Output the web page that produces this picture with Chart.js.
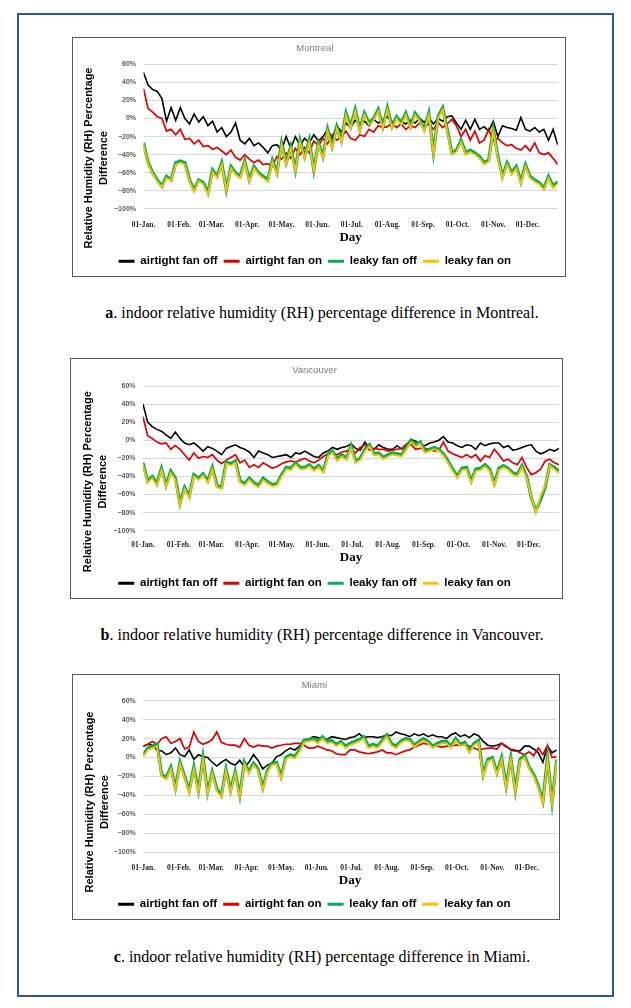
<!DOCTYPE html>
<html>
<head>
<meta charset="utf-8">
<script src="https://cdn.jsdelivr.net/npm/chart.js@4.4.1/dist/chart.umd.min.js"></script>
<style>
html, body { margin: 0; padding: 0; background: #fff; }
body { width: 631px; height: 1008px; position: relative; overflow: hidden; font-family: "Liberation Serif", serif; }
#frame { position: absolute; left: 17px; top: 13px; width: 593px; height: 980px; border: 2px solid #2a5a96; }
.box { position: absolute; }
.box .edge { position: absolute; left: 0; top: 0; right: 0; bottom: 0; border: 1px solid #595959; pointer-events: none; }
.cap { position: absolute; left: 22px; width: 600px; text-align: center; font-size: 16px; line-height: 20px; color: #000; }
</style>
</head>
<body>
<div id="frame"></div>

<div class="box" style="left:72px;top:37px;width:494px;height:240px"><canvas id="chartMtl"></canvas><div class="edge"></div></div>
<div class="cap" style="top:303px"><b>a</b>. indoor relative humidity (RH) percentage difference in Montreal.</div>

<div class="box" style="left:70px;top:358px;width:493px;height:241px"><canvas id="chartVan"></canvas><div class="edge"></div></div>
<div class="cap" style="top:625px"><b>b</b>. indoor relative humidity (RH) percentage difference in Vancouver.</div>

<div class="box" style="left:72px;top:674px;width:488px;height:246px"><canvas id="chartMia"></canvas><div class="edge"></div></div>
<div class="cap" style="top:947px"><b>c</b>. indoor relative humidity (RH) percentage difference in Miami.</div>

<script>
// day of year for each sample
const days = [0,4,8,12,16,20,24,28,32,36,40,44,48,52,56,60,64,68,72,76,80,84,88,92,96,100,104,108,112,116,120,124,128,132,136,
  140,144,148,152,156,160,164,168,172,176,180,184,188,192,196,200,204,208,212,216,220,224,228,232,236,240,244,248,252,256,260,
  264,268,272,276,280,284,288,292,296,300,304,308,312,316,320,324,328,332,336,340,344,348,352,356,360];
const monthStarts = [0,31,59,90,120,151,181,212,243,273,304,334];
const monthLabels = ['01-Jan.','01-Feb.','01-Mar.','01-Apr.','01-May.','01-Jun.','01-Jul.','01-Aug.','01-Sep.','01-Oct.','01-Nov.','01-Dec.'];
const seriesNames = ['airtight fan off','airtight fan on','leaky fan off','leaky fan on'];

// Montreal
const mtlAirtightOff = [51,37,32,30,22,-3,12,-2,12,0,-6,5,-4,2,-8,-3,-15,-10,-20,-15,-5,-24,-28,-22,-30,-27,-32,-38,-30,-29,-35,-20,-33,-20,-30,
  -22,-27,-18,-25,-20,-12,-22,-8,-15,-5,-10,-2,-6,-3,-8,-1,-5,-2,2,-4,0,-3,-6,-2,-5,0,-4,1,-6,0,-3,2,3,-5,-12,-2,-12,-1,-12,-9,-14,-3,-20,-8,-10,-11,-13,1,-12,-14,-10,-15,-12,-24,-12,-29];
const mtlAirtightOn = [33,11,7,2,0,-14,-12,-18,-12,-23,-22,-28,-24,-31,-30,-34,-32,-36,-40,-35,-43,-46,-40,-45,-49,-46,-51,-50,-53,-42,-45,-38,-44,-33,-40,
  -32,-38,-25,-30,-22,-28,-18,-24,-20,-14,-22,-24,-18,-20,-12,-15,-8,-10,-9,-5,-10,-6,-12,-8,-10,-5,-10,-6,-12,-4,-10,-6,-1,-8,-20,-12,-24,-14,-27,-24,-12,-25,-22,-27,-30,-29,-33,-35,-30,-36,-27,-38,-40,-38,-44,-51];
const mtlLeakyOff = [-27,-49,-60,-68,-75,-64,-68,-49,-47,-49,-68,-79,-68,-71,-82,-57,-64,-49,-79,-53,-60,-64,-47,-68,-53,-60,-64,-68,-46,-60,-27,-49,-31,-57,-24,
  -42,-24,-57,-27,-42,-12,-31,-9,-24,6,-9,10,-12,6,-5,0,10,-9,12,-9,2,-5,6,-9,6,-1,-12,6,-38,2,12,-12,-38,-35,-24,-38,-35,-38,-42,-49,-46,-12,-42,-64,-49,-60,-53,-70,-51,-64,-68,-71,-77,-64,-75,-70];
const mtlLeakyOn = [-29,-51,-61,-70,-76,-66,-69,-51,-49,-51,-70,-81,-69,-73,-84,-59,-66,-51,-80,-55,-62,-66,-49,-70,-55,-62,-66,-70,-48,-62,-29,-51,-33,-58,-26,
  -44,-26,-58,-29,-44,-14,-33,-11,-26,4,-11,8,-14,4,-7,-2,8,-11,10,-11,0,-7,4,-11,4,-3,-14,4,-40,0,10,-14,-40,-37,-26,-40,-37,-40,-44,-51,-48,-14,-44,-66,-51,-62,-55,-72,-53,-66,-70,-73,-79,-66,-77,-72];

// Vancouver
const vanAirtightOff = [40,20,15,12,10,6,2,9,2,-3,-5,-3,-7,-12,-7,-9,-12,-16,-9,-7,-5,-8,-10,-13,-19,-12,-14,-16,-19,-18,-17,-16,-19,-14,-15,
  -12,-15,-18,-19,-14,-12,-8,-10,-8,-7,-4,-9,-11,-2,-8,-10,-5,-8,-10,-10,-6,-10,-5,1,-1,-5,-6,-3,-2,0,4,-2,-3,-6,-8,-5,-6,-10,-3,-6,-4,-3,-3,-8,-6,-11,-10,-8,-6,-5,-12,-15,-13,-10,-12,-9];
const vanAirtightOn = [26,5,2,-2,-4,-3,-10,-6,-10,-16,-22,-14,-20,-18,-19,-16,-22,-26,-22,-19,-16,-25,-22,-30,-27,-30,-25,-28,-31,-29,-26,-24,-23,-24,-22,
  -20,-23,-25,-22,-18,-15,-14,-16,-13,-12,-10,-14,-8,-5,-11,-9,-10,-10,-12,-11,-10,-9,-4,-5,-10,-9,-9,-10,-12,-11,-2,-12,-15,-17,-19,-16,-19,-16,-23,-17,-19,-10,-16,-23,-21,-25,-27,-19,-30,-38,-36,-32,-23,-21,-25,-27];
const vanLeakyOff = [-25,-45,-40,-48,-31,-50,-34,-42,-70,-52,-62,-38,-42,-37,-45,-30,-50,-52,-24,-26,-23,-45,-48,-42,-47,-50,-42,-46,-49,-48,-38,-30,-31,-25,-30,
  -30,-27,-32,-28,-34,-16,-12,-21,-16,-20,-6,-23,-20,-10,-5,-15,-14,-19,-16,-14,-15,-16,-8,0,-5,-2,-12,-10,-8,-10,-15,-23,-32,-40,-31,-30,-45,-32,-31,-27,-32,-48,-31,-28,-31,-36,-38,-28,-40,-63,-78,-66,-52,-27,-30,-34];
const vanLeakyOn = [-27,-47,-42,-50,-33,-52,-36,-44,-72,-54,-64,-40,-44,-39,-47,-32,-52,-54,-26,-28,-25,-47,-50,-44,-49,-52,-44,-48,-51,-50,-40,-32,-33,-27,-32,
  -32,-29,-34,-30,-36,-18,-14,-23,-18,-22,-8,-25,-22,-12,-7,-17,-16,-21,-18,-16,-17,-18,-10,-2,-7,-4,-14,-12,-10,-12,-17,-25,-34,-42,-33,-32,-47,-34,-33,-29,-34,-50,-33,-30,-33,-38,-40,-30,-42,-62,-80,-62,-50,-28,-32,-37];

// Miami
const miaAirtightOff = [12,14,13,8,7,3,5,10,3,1,8,-2,3,1,0,-5,-9,-5,-2,-6,-8,-3,-10,-5,3,-3,-12,-8,-6,1,3,7,10,8,12,
  19,19,22,21,19,19,22,21,20,19,21,22,25,21,22,22,21,22,24,23,27,25,24,22,25,23,25,22,24,22,22,20,24,26,22,24,21,25,23,17,13,12,13,15,12,8,7,7,12,12,9,5,-5,12,5,8];
const miaAirtightOn = [12,14,17,14,20,22,15,17,20,9,11,27,17,14,16,19,27,16,14,13,13,11,20,13,11,13,12,12,10,12,13,14,14,15,15,
  13,10,10,12,10,8,7,4,3,3,8,8,6,5,4,5,6,8,5,5,3,5,7,8,11,13,15,14,13,12,11,12,12,13,13,13,12,10,8,9,10,10,9,15,11,9,8,5,3,6,2,10,3,13,0,1];
const miaLeakyOff = [3,10,12,14,-18,-21,-10,-32,-5,-20,-35,-10,-35,0,-37,-15,-33,-40,-12,-35,-15,-40,-5,-15,-6,-12,-32,-14,-6,-5,-20,0,3,1,8,
  18,19,20,17,22,17,18,14,17,12,15,17,19,22,12,14,12,18,24,15,12,17,20,19,13,17,20,17,12,15,17,17,12,20,14,16,7,15,18,-18,-2,0,-16,0,-30,0,-35,-2,2,-10,-18,-30,-46,0,-47,-2];
const miaLeakyOn = [1,8,10,12,-20,-23,-12,-34,-7,-22,-37,-12,-37,-2,-39,-17,-35,-42,-14,-37,-17,-42,-7,-17,-8,-14,-34,-16,-8,-7,-22,-2,1,-1,6,
  16,17,18,15,20,15,16,12,15,10,13,15,17,20,10,12,10,16,22,13,10,15,18,17,11,15,18,15,10,13,15,15,10,18,12,14,5,13,16,-20,-4,-2,-18,-2,-32,-2,-37,-4,0,-12,-20,-32,-48,-2,-49,-4];

const lineColors = ['#000000', '#e00000', '#00b050', '#ffc000'];
const lineWidths = [1.6, 1.7, 3.2, 1.8];

Chart.defaults.font.family = "'Liberation Sans', sans-serif";

// rotated two-line y title, centred on the whole panel like the Excel original
const sideTitle = {
  id: 'sideTitle',
  afterDraw(chart, args, opts) {
    const ctx = chart.ctx;
    ctx.save();
    ctx.font = "bold 11px 'Liberation Sans'";
    ctx.fillStyle = '#000';
    ctx.textAlign = 'center';
    ctx.textBaseline = 'middle';
    opts.lines.forEach((t, i) => {
      ctx.save();
      ctx.translate(opts.x[i], opts.y);
      ctx.rotate(-Math.PI / 2);
      ctx.fillText(t, 0, 0);
      ctx.restore();
    });
    ctx.restore();
  }
};

function toPoints(vals) {
  return vals.map((v, i) => ({x: days[i], y: v}));
}

function drawPanel(id, city, series, g) {
  const legPad = 6;
  const legTop = g.legY - legPad - 11.5 / 2;
  new Chart(document.getElementById(id), {
    type: 'line',
    data: {
      datasets: series.map((vals, k) => ({
        label: seriesNames[k],
        data: toPoints(vals),
        borderColor: lineColors[k],
        backgroundColor: lineColors[k],
        borderWidth: lineWidths[k],
        pointRadius: 0,
        tension: 0,
        order: 4 - k
      }))
    },
    options: {
      responsive: true,
      maintainAspectRatio: false,
      animation: false,
      layout: {padding: {left: 0, right: g.padR, top: 0, bottom: 0}},
      scales: {
        x: {
          type: 'linear', min: 0, max: 360,
          grid: {display: false, drawTicks: false},
          border: {display: false},
          afterBuildTicks: s => { s.ticks = monthStarts.map(v => ({value: v})); },
          afterFit: s => { s.height = legTop - g.plotB; },
          ticks: {
            autoSkip: false, maxRotation: 0,
            padding: g.tickY - g.plotB - 4,
            color: '#262626',
            font: {family: "'Liberation Serif', serif", size: 7.5, weight: 'bold'},
            callback: v => monthLabels[monthStarts.indexOf(v)]
          },
          title: {
            display: true, text: 'Day', color: '#000',
            font: {family: "'Liberation Serif', serif", size: 13, weight: 'bold'},
            padding: {top: 0, bottom: legTop - g.dayY - 7.8}
          }
        },
        y: {
          min: -100, max: 60,
          afterFit: s => { s.width = g.plotL; },
          grid: {color: '#d9d9d9', lineWidth: 1, drawTicks: false},
          border: {display: false},
          ticks: {
            stepSize: 20, padding: 7.5, color: '#595959',
            font: {size: 7, weight: 'bold'},
            callback: v => (v < 0 ? '\u2212' + Math.abs(v) : v) + '%'
          }
        }
      },
      plugins: {
        title: {
          display: true, text: city, color: '#7f7f7f',
          font: {size: 9.5, weight: 'normal'},
          padding: {top: g.titleY - 5.7, bottom: g.plotT - g.titleY - 5.7}
        },
        legend: {
          position: 'bottom',
          reverse: true,
          labels: {
            color: '#000',
            font: {size: 11.5, weight: 'bold'},
            boxWidth: 16, boxHeight: 3, padding: legPad,
            generateLabels: chart => Chart.defaults.plugins.legend.labels.generateLabels(chart)
              .map(item => Object.assign(item, {lineWidth: 0}))
          }
        },
        tooltip: {enabled: false},
        sideTitle: {lines: ['Relative Humidity (RH) Percentage', 'Difference'], x: [g.yt1, g.yt2], y: g.ytY}
      }
    },
    plugins: [sideTitle]
  });
}

drawPanel('chartMtl', 'Montreal', [mtlAirtightOff, mtlAirtightOn, mtlLeakyOff, mtlLeakyOn],
  {plotL: 71.5, padR: 8.3, plotT: 27.3, plotB: 172.3, titleY: 11, tickY: 188, dayY: 201, legY: 224.7, yt1: 17, yt2: 32, ytY: 121});
drawPanel('chartVan', 'Vancouver', [vanAirtightOff, vanAirtightOn, vanLeakyOff, vanLeakyOn],
  {plotL: 73, padR: 4, plotT: 28, plotB: 173.7, titleY: 12, tickY: 188, dayY: 200.3, legY: 226.3, yt1: 18.3, yt2: 32.7, ytY: 123.7});
drawPanel('chartMia', 'Miami', [miaAirtightOff, miaAirtightOn, miaLeakyOff, miaLeakyOn],
  {plotL: 71.3, padR: 3.3, plotT: 26.7, plotB: 179.7, titleY: 11, tickY: 195.3, dayY: 207.7, legY: 231.7, yt1: 18, yt2: 33, ytY: 128});
</script>
</body>
</html>
